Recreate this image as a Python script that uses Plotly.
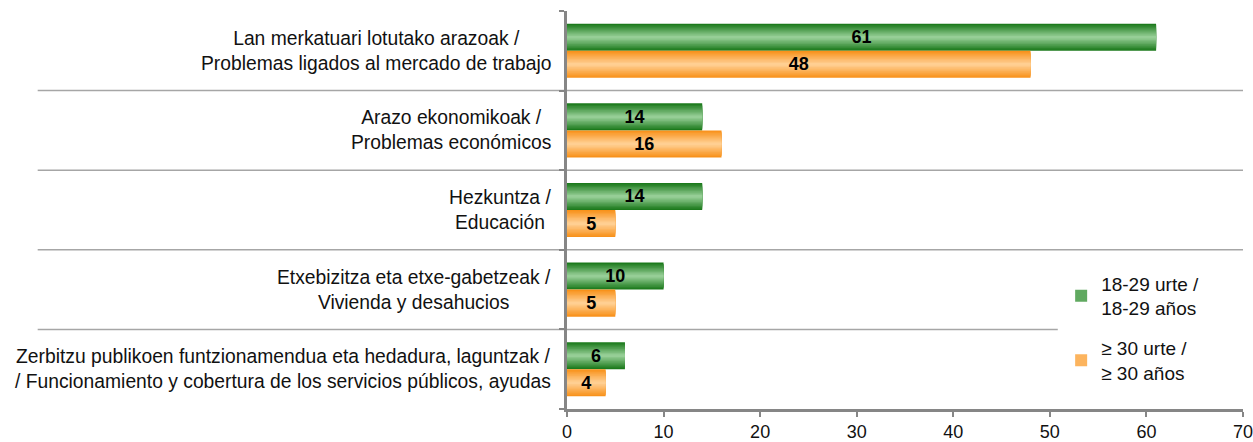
import plotly.graph_objects as go

# Data
categories = [
    "Lan merkatuari lotutako arazoak /<br>Problemas ligados al mercado de trabajo",
    "Arazo ekonomikoak /<br>Problemas económicos",
    "Hezkuntza /<br>Educación",
    "Etxebizitza eta etxe-gabetzeak /<br>Vivienda y desahucios",
    "Zerbitzu publikoen funtzionamendua eta hedadura, laguntzak /<br>/ Funcionamiento y cobertura de los servicios públicos, ayudas",
]
young = [61, 14, 14, 10, 6]
older = [48, 16, 5, 5, 4]
series_names = ["18-29 urte /<br>18-29 años", "≥ 30 urte /<br>≥ 30 años"]

FONT = "Liberation Sans, Arial, sans-serif"
BAR_W = 0.34
N_LAYERS = 10


def lerp(c1, c2, t):
    return "rgb({},{},{})".format(*[round(a + (b - a) * t) for a, b in zip(c1, c2)])


# (dark edge, light centre) for glossy gradient look
gradients = [((28, 122, 28), (150, 206, 150)), ((248, 146, 28), (255, 207, 146))]
offsets = [-BAR_W, 0.0]

fig = go.Figure()
y_idx = list(range(len(categories)))

for s, (vals, name) in enumerate(zip([young, older], series_names)):
    dark, light = gradients[s]
    centre = offsets[s] + BAR_W / 2
    for k in range(N_LAYERS):
        w = BAR_W * (1 - k / N_LAYERS)
        fig.add_trace(go.Bar(
            y=y_idx, x=vals, orientation="h",
            width=w, offset=centre - w / 2,
            marker=dict(color=lerp(dark, light, k / (N_LAYERS - 1)), line=dict(width=0)),
            name=name, legendgroup=name,
            showlegend=(k == N_LAYERS // 2),
            hoverinfo="skip",
        ))
    # transparent top layer carrying the value labels
    fig.add_trace(go.Bar(
        y=y_idx, x=vals, orientation="h",
        width=BAR_W, offset=offsets[s],
        marker=dict(color="rgba(0,0,0,0)", line=dict(width=0)),
        text=vals, texttemplate="<b>%{text}</b>",
        textposition="inside", insidetextanchor="middle",
        textfont=dict(family=FONT, size=18, color="black"),
        showlegend=False, name=name,
    ))

# separators between categories (last one stops before the legend)
for b, x_end in zip([0.5, 1.5, 2.5, 3.5], [1.0, 1.0, 1.0, 0.726]):
    fig.add_shape(type="line", xref="paper", yref="y", x0=-0.783, x1=x_end, y0=b, y1=b,
                  line=dict(color="#a6a6a6", width=1.5), layer="below")

# category labels
for i, c in enumerate(categories):
    fig.add_annotation(x=0, xref="paper", y=i, yref="y", text=c, showarrow=False,
                       xanchor="right", align="center", xshift=-14,
                       font=dict(family=FONT, size=19.3, color="#111111"))

fig.update_layout(
    width=1253, height=442,
    margin=dict(l=567, r=10, t=11, b=33, autoexpand=False),
    barmode="overlay",
    plot_bgcolor="white", paper_bgcolor="white",
    font=dict(family=FONT, size=18, color="#111111"),
    showlegend=True,
    legend=dict(x=0.731, y=0.363, xanchor="left", yanchor="top",
                bgcolor="rgba(0,0,0,0)", tracegroupgap=12,
                font=dict(family=FONT, size=19, color="#111111")),
    xaxis=dict(range=[0, 70], dtick=10, showgrid=False, zeroline=False,
               showline=True, linecolor="#868686", linewidth=2.5,
               ticks="outside", ticklen=5, tickwidth=2, tickcolor="#868686",
               ticklabeloverflow="allow", automargin=False),
    yaxis=dict(range=[4.5, -0.5], tickvals=[-0.5, 0.5, 1.5, 2.5, 3.5, 4.5],
               ticktext=[""] * 6, showgrid=False, zeroline=False,
               showline=True, linecolor="#868686", linewidth=2.5,
               ticks="outside", ticklen=5, tickwidth=2, tickcolor="#868686",
               automargin=False),
)

fig.write_html("out.html", config={"displayModeBar": False},
               post_script="document.body.style.margin='0';")
